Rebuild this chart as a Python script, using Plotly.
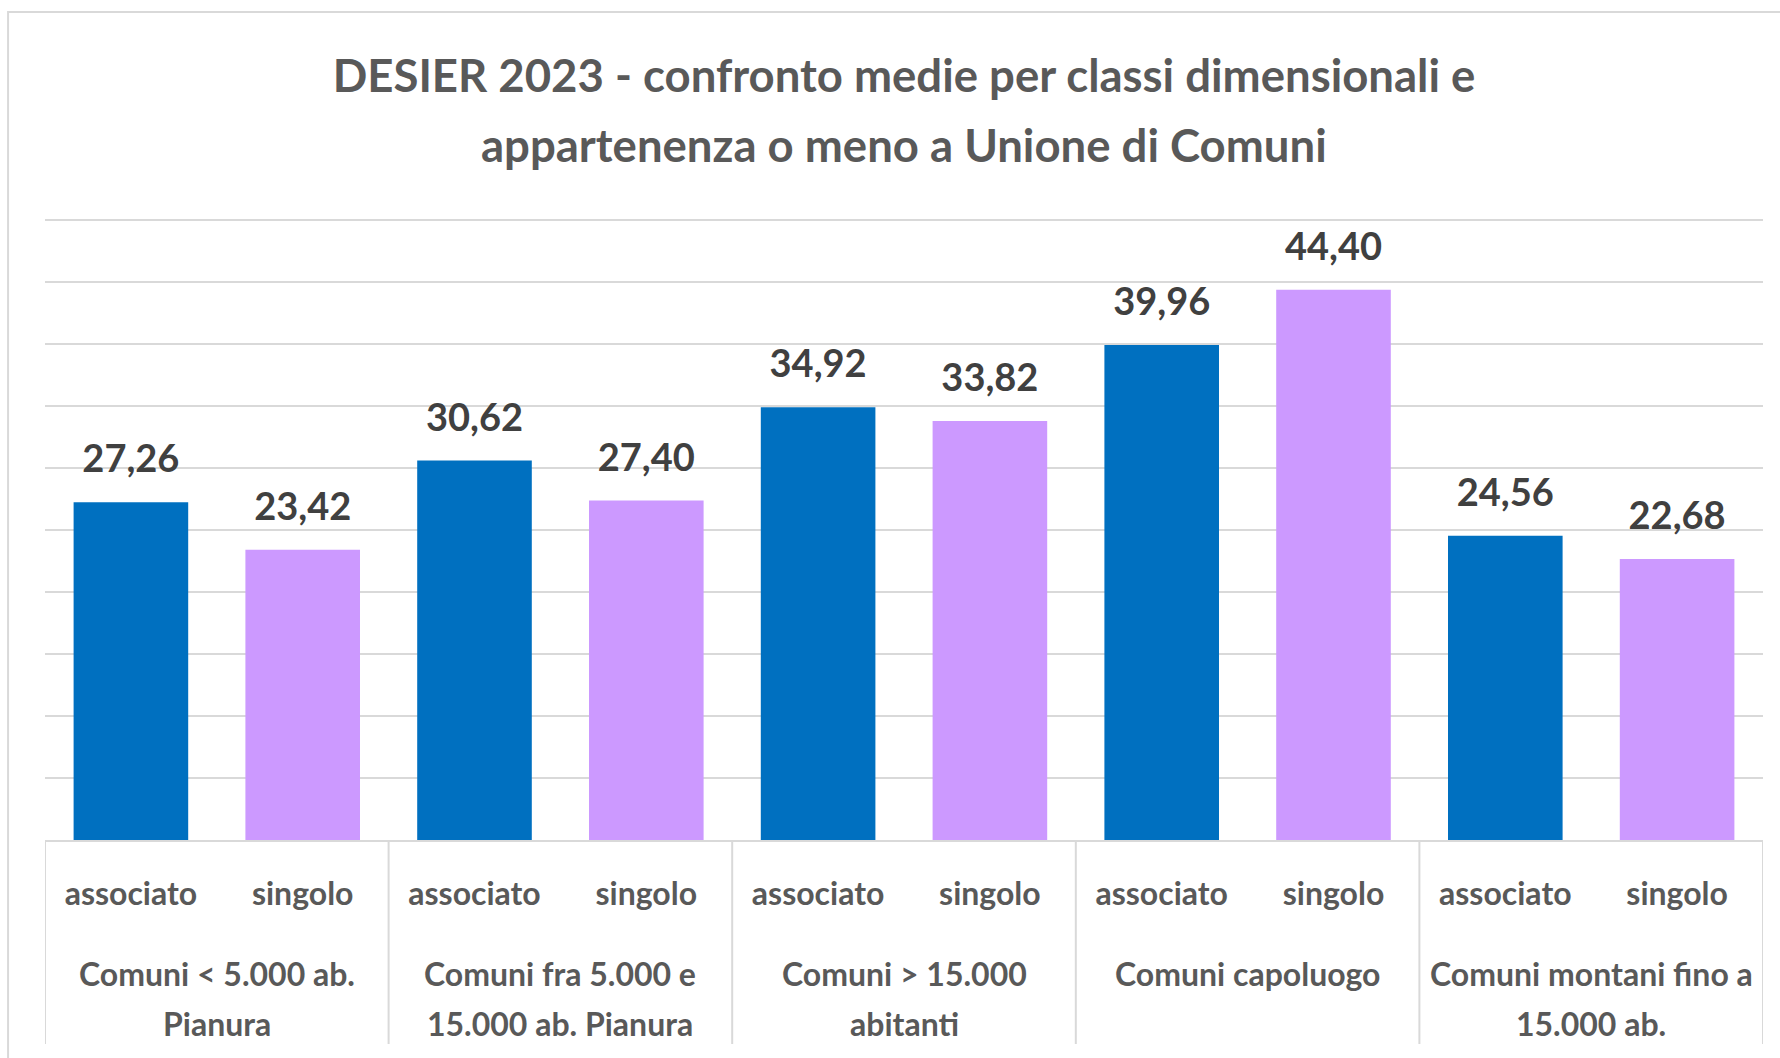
import plotly.graph_objects as go

# ---- data ----
groups = [
    ["Comuni < 5.000 ab.", "Pianura"],
    ["Comuni fra 5.000 e", "15.000 ab. Pianura"],
    ["Comuni > 15.000", "abitanti"],
    ["Comuni capoluogo"],
    ["Comuni montani fino a", "15.000 ab."],
]
subcats = ["associato", "singolo"]
associato = [27.26, 30.62, 34.92, 39.96, 24.56]
singolo = [23.42, 27.40, 33.82, 44.40, 22.68]

title_line1 = "DESIER 2023 - confronto medie per classi dimensionali e"
title_line2 = "appartenenza o meno a Unione di Comuni"

color_map = {"associato": "#0070C0", "singolo": "#CC99FF"}

# flatten to one bar per (group, subcategory) slot
xpos, tick_text, yvals, bar_colors = [], [], [], []
for gi, (a, s) in enumerate(zip(associato, singolo)):
    for si, (sc, v) in enumerate(zip(subcats, (a, s))):
        xpos.append(gi * len(subcats) + si)
        tick_text.append(sc)
        yvals.append(v)
        bar_colors.append(color_map[sc])

FONT = "Lato"
LABEL_COLOR = "#404040"
AXIS_TEXT = "#595959"
GRID = "#D9D9D9"

PLOT_H = 622          # plot-area height in px (1058 - top - bottom margins)
LAB_SIZE = 32

fig = go.Figure()
fig.add_trace(go.Bar(
    x=xpos,
    y=yvals,
    marker=dict(color=bar_colors, line=dict(width=0)),
    hoverinfo="skip",
    showlegend=False,
))
# data labels (transparent markers lift the text above the bars)
fig.add_trace(go.Scatter(
    x=xpos,
    y=yvals,
    mode="markers+text",
    marker=dict(size=31, color="rgba(0,0,0,0)"),
    text=[f"{v:.2f}".replace(".", ",") for v in yvals],
    textposition="top center",
    textfont=dict(family=FONT, size=38, color=LABEL_COLOR, weight="bold"),
    hoverinfo="skip",
    showlegend=False,
    cliponaxis=False,
))

annotations = [dict(
    text=title_line2,
    x=0.5, xref="paper", xanchor="center",
    y=(840 - 145) / PLOT_H, yref="paper",
    yanchor="middle", showarrow=False,
    font=dict(family=FONT, size=45.5, color=AXIS_TEXT, weight="bold"),
)]
# group labels below the sub-category labels, one annotation per text line
n_sub = len(subcats)
for gi, lines in enumerate(groups):
    center = gi * n_sub + (n_sub - 1) / 2
    for li, line in enumerate(lines):
        annotations.append(dict(
            text=line.replace("<", "&lt;").replace(">", "&gt;"),
            x=center, xref="x", xanchor="center",
            y=-(133 + 50 * li) / PLOT_H, yref="paper", yanchor="middle",
            showarrow=False,
            font=dict(family=FONT, size=LAB_SIZE, color=AXIS_TEXT, weight="bold"),
        ))

# group dividers (box under the axis)
shapes = [dict(
    type="rect", xref="paper", yref="paper",
    x0=-0.0215, x1=1.03, y0=-0.4, y1=(840 - 12) / PLOT_H,
    line=dict(color=GRID, width=2), fillcolor="rgba(0,0,0,0)",
    layer="below",
)]
for gi in range(len(groups) + 1):
    xb = gi * n_sub - 0.5
    shapes.append(dict(
        type="line", xref="x", yref="paper",
        x0=xb, x1=xb, y0=0, y1=-204 / PLOT_H,
        line=dict(color=GRID, width=2), layer="below",
    ))

fig.update_layout(
    width=1780,
    height=1058,
    margin=dict(l=45, r=17, t=218, b=218),
    paper_bgcolor="white",
    plot_bgcolor="white",
    bargap=0.333,
    title=dict(
        text=title_line1,
        x=0.5, xref="paper", xanchor="center",
        y=1 - 76 / 1058, yref="container", yanchor="middle",
        font=dict(family=FONT, size=45.5, color=AXIS_TEXT, weight="bold"),
    ),
    annotations=annotations,
    shapes=shapes,
    xaxis=dict(
        range=[-0.5, len(yvals) - 0.5],
        tickmode="array", tickvals=xpos, ticktext=tick_text,
        showline=True, linecolor=GRID, linewidth=2,
        tickfont=dict(family=FONT, size=LAB_SIZE, color=AXIS_TEXT, weight="bold"),
        ticklabelstandoff=25,
        showgrid=False, zeroline=False, ticks="",
    ),
    yaxis=dict(
        range=[0, 50.2], dtick=5, tick0=0,
        showticklabels=False, showgrid=True,
        gridcolor=GRID, gridwidth=2,
        zeroline=False, showline=False, ticks="",
    ),
)

fig.write_html("out.html", config={"displayModeBar": False},
               post_script="document.body.style.margin='0';")
